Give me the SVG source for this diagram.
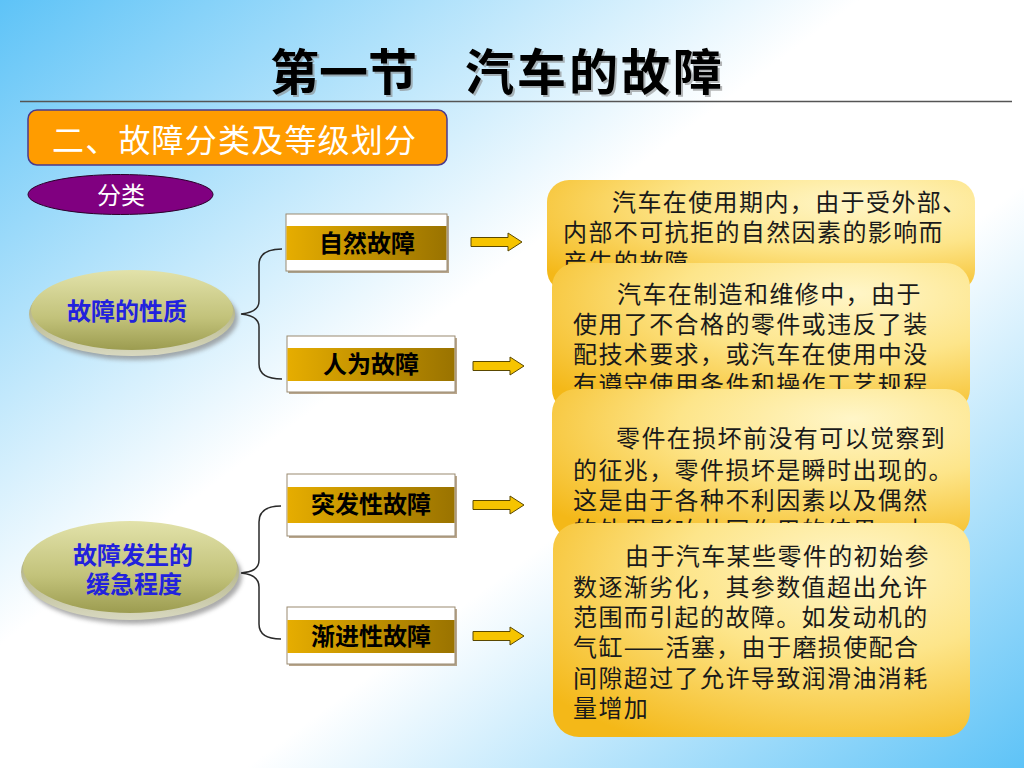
<svg xmlns="http://www.w3.org/2000/svg" width="1024" height="768" viewBox="0 0 1024 768">
<defs>
<linearGradient id="bg" x1="0" y1="0" x2="1" y2="1">
<stop offset="0" stop-color="#5ec3f7"/>
<stop offset="0.42" stop-color="#ffffff"/>
<stop offset="0.62" stop-color="#ffffff"/>
<stop offset="1" stop-color="#5ec3f7"/>
</linearGradient>
<radialGradient id="card" cx="0.7" cy="0.25" r="0.9" fx="0.72" fy="0.2">
<stop offset="0" stop-color="#fff6c8"/>
<stop offset="0.45" stop-color="#fde58a"/>
<stop offset="1" stop-color="#f4b818"/>
</radialGradient>
<linearGradient id="band" x1="0" y1="0" x2="1" y2="0">
<stop offset="0" stop-color="#e6ad00"/>
<stop offset="1" stop-color="#9a7300"/>
</linearGradient>
<linearGradient id="olive" x1="0" y1="0" x2="0" y2="1">
<stop offset="0" stop-color="#e2e2aa"/>
<stop offset="0.6" stop-color="#c2c27a"/>
<stop offset="1" stop-color="#9c9c50"/>
</linearGradient>
<linearGradient id="rim" x1="0" y1="0" x2="0" y2="1">
<stop offset="0" stop-color="#9a9a60"/>
<stop offset="1" stop-color="#d8d8c0"/>
</linearGradient>
<filter id="sh" x="-20%" y="-20%" width="140%" height="150%">
<feGaussianBlur stdDeviation="2"/>
</filter>
<path id="arr" d="M0,-4.5 H37 V-9 L51,0 L37,9 V4.5 H0 Z"/>
</defs>
<style>
.t{font-family:"Noto Sans CJK SC","Noto Sans CJK TC",sans-serif}
.card{fill:url(#card)}
.ct{font-family:"Noto Sans CJK SC",sans-serif;font-size:24px;fill:#1a1a1a;letter-spacing:1.4px}
.lbl{font-family:"Noto Sans CJK SC",sans-serif;font-size:24px;font-weight:bold;fill:#000;text-anchor:middle}
.band{fill:url(#band)}
.lbox{fill:#fff;stroke:#9a8a70;stroke-width:1}
.arrow{fill:#f6c400;stroke:#5a4800;stroke-width:1}
.brace{fill:none;stroke:#2a2a2a;stroke-width:1.5}
.et{font-family:"Noto Sans CJK SC",sans-serif;font-size:24px;font-weight:bold;fill:#2222dd;text-anchor:middle}
</style>
<rect width="1024" height="768" fill="url(#bg)"/>

<g id="title">
<text class="t" x="272" y="92" font-size="49" font-weight="bold" fill="#888" opacity="0.6">第一节</text>
<text class="t" x="467" y="92" font-size="49" font-weight="bold" fill="#888" opacity="0.6" letter-spacing="3">汽车的故障</text>
<text class="t" x="270" y="90" font-size="49" font-weight="bold" fill="#000">第一节</text>
<text class="t" x="465" y="90" font-size="49" font-weight="bold" fill="#000" letter-spacing="3">汽车的故障</text>
</g>
<line x1="20" y1="101.5" x2="1012" y2="101.5" stroke="#555" stroke-width="1.5"/>

<g id="section">
<rect x="28" y="110" width="419" height="55" rx="9" fill="#ff9c00" stroke="#4a3a8c" stroke-width="1.5"/>
<text class="t" x="52" y="152" font-size="32" fill="#ffffff" letter-spacing="1.2">二、故障分类及等级划分</text>
</g>

<g id="fenlei">
<ellipse cx="120.5" cy="194.5" rx="92.5" ry="20" fill="#800080" stroke="#2a002a" stroke-width="1"/>
<text class="t" x="121" y="204" font-size="24" fill="#fff" text-anchor="middle">分类</text>
</g>

<g id="nature">
<ellipse cx="135" cy="318" rx="103" ry="42" fill="#888" filter="url(#sh)" opacity="0.7"/>
<ellipse cx="132" cy="314" rx="103" ry="42" fill="url(#rim)"/>
<ellipse cx="132" cy="310" rx="101" ry="40" fill="url(#olive)"/>
<text class="et" x="127" y="320">故障的性质</text>
</g>

<g id="urgency">
<ellipse cx="133" cy="576" rx="109" ry="48" fill="#888" filter="url(#sh)" opacity="0.7"/>
<ellipse cx="130" cy="572" rx="109" ry="48" fill="url(#rim)"/>
<ellipse cx="130" cy="567" rx="107" ry="46" fill="url(#olive)"/>
<text class="et" x="133" y="564">故障发生的</text>
<text class="et" x="134" y="593">缓急程度</text>
</g>

<g id="connectors">
<path class="brace" d="M282,249 C266,249 259,255 259,265 V301 C259,309 252,313 241,314 C252,315 259,319 259,327 V364 C259,374 266,379 282,379"/>
<path class="brace" d="M281,506 C266,506 259,512 259,522 V560 C259,569 252,572 241,573 C252,574 259,578 259,587 V624 C259,634 266,639 281,639"/>
<use href="#arr" class="arrow" x="471" y="242"/>
<use href="#arr" class="arrow" x="473" y="366"/>
<use href="#arr" class="arrow" x="473" y="505"/>
<use href="#arr" class="arrow" x="473" y="636"/>
</g>

<g id="natural">
<rect x="288" y="216" width="161" height="57" fill="#8a6a40" opacity="0.6"/>
<rect class="lbox" x="286" y="214" width="161" height="57"/>
<rect class="band" x="286.5" y="226" width="160" height="34"/>
<text class="lbl" x="367" y="252">自然故障</text>
</g>
<g id="human">
<rect x="289" y="338" width="168" height="56" fill="#8a6a40" opacity="0.6"/>
<rect class="lbox" x="287" y="336" width="168" height="56"/>
<rect class="band" x="287.5" y="348" width="167" height="33"/>
<text class="lbl" x="371" y="373">人为故障</text>
</g>
<g id="sudden">
<rect x="289" y="476" width="168" height="62" fill="#8a6a40" opacity="0.6"/>
<rect class="lbox" x="287" y="474" width="168" height="62"/>
<rect class="band" x="287.5" y="487" width="167" height="36"/>
<text class="lbl" x="371" y="513">突发性故障</text>
</g>
<g id="gradual">
<rect x="289" y="609" width="168" height="57" fill="#8a6a40" opacity="0.6"/>
<rect class="lbox" x="287" y="607" width="168" height="57"/>
<rect class="band" x="287.5" y="620" width="167" height="33"/>
<text class="lbl" x="371" y="645">渐进性故障</text>
</g>

<g id="cardA">
<rect class="card" x="547" y="180" width="428" height="112" rx="22"/>
<text class="ct" x="612" y="211">汽车在使用期内，由于受外部、</text>
<text class="ct" x="563" y="241">内部不可抗拒的自然因素的影响而</text>
<text class="ct" x="563" y="271">产生的故障</text>
</g>
<g id="cardB">
<rect class="card" x="552" y="263" width="418" height="150" rx="24"/>
<text class="ct" x="617" y="303">汽车在制造和维修中，由于</text>
<text class="ct" x="573" y="333">使用了不合格的零件或违反了装</text>
<text class="ct" x="573" y="363">配技术要求，或汽车在使用中没</text>
<text class="ct" x="573" y="393">有遵守使用条件和操作工艺规程</text>
</g>
<g id="cardC">
<rect class="card" x="552" y="389" width="418" height="150" rx="24"/>
<text class="ct" x="616" y="447">零件在损坏前没有可以觉察到</text>
<text class="ct" x="573" y="479">的征兆，零件损坏是瞬时出现的。</text>
<text class="ct" x="573" y="509">这是由于各种不利因素以及偶然</text>
<text class="ct" x="573" y="539">的外界影响共同作用的结果，由</text>
</g>
<g id="cardD">
<rect class="card" x="553" y="523" width="417" height="214" rx="26"/>
<text class="ct" x="625" y="565">由于汽车某些零件的初始参</text>
<text class="ct" x="573" y="596">数逐渐劣化，其参数值超出允许</text>
<text class="ct" x="573" y="626">范围而引起的故障。如发动机的</text>
<text class="ct" x="573" y="656">气缸——活塞，由于磨损使配合</text>
<text class="ct" x="573" y="687">间隙超过了允许导致润滑油消耗</text>
<text class="ct" x="573" y="717">量增加</text>
</g>
</svg>
